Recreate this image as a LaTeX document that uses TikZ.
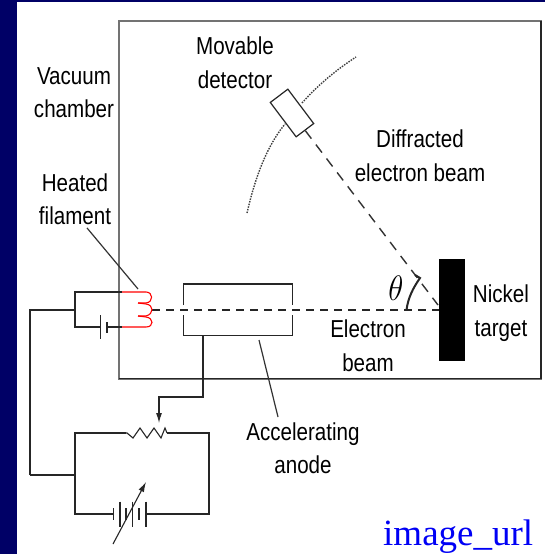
\documentclass[tikz,border=0pt]{standalone}
\usepackage{fontspec}
\setmainfont[FakeStretch=0.84]{Liberation Sans}
\newfontfamily\urlfont{Liberation Serif}
\usetikzlibrary{arrows.meta,positioning}
\definecolor{slidenavy}{RGB}{0,0,102}
\definecolor{urlblue}{RGB}{0,0,245}
\tikzset{
  label-t/.style={align=center,inner sep=0pt,font=\fontsize{24.5}{33.5}\selectfont,text=black},
  % Kantar
  wire/.style={line width=1.1pt,black!85},
  wall/.style={line width=2pt,black!55},
  coil/.style={line width=1.1pt,red},
  beam/.style={line width=1.4pt,black!85,dash pattern=on 8pt off 6pt},
  diffr/.style={line width=1.4pt,black!80,dash pattern=on 10pt off 7.5pt},
  track/.style={line width=1.4pt,black!75,dash pattern=on 1.5pt off 1.2pt},
  leader/.style={line width=1.2pt,black!80},
  tipped/.style={wire,-{Latex[length=10pt,width=6pt]}},
}
\begin{document}
\begin{tikzpicture}[x=1pt,y=-1pt]
  \useasboundingbox (0,0) rectangle (545,554);
  \fill[slidenavy] (0,0) rectangle (545,554);
  \fill[white] (17,2) rectangle (545,554);
  % chamber
  \draw[wall] (119,21) rectangle (541,379);
  \draw[line width=1.2pt,black!85] (119,378.5) -- (541,378.5) -- (541,21);
  % coordinates
  \coordinate (top-l) at (75,292);
  \coordinate (mid-l) at (75,310);
  \coordinate (bot-l) at (75,327);
  \coordinate (far-t) at (30,310);
  \coordinate (far-b) at (30,475);
  \coordinate (res-in) at (126,433);
  \coordinate (res-out) at (167,433);
  \coordinate (res-l) at (75,433);
  \coordinate (res-r) at (209,433);
  \coordinate (bat-l) at (113,514);
  \coordinate (bat-r) at (146,514);
  \coordinate (bat-cl) at (75,514);
  \coordinate (bat-cr) at (209,514);
  \coordinate (join-b) at (75,475);
  \coordinate (fil-t) at (122,292);
  \coordinate (fil-b) at (122,327);
  \coordinate (cell-a) at (100.5,327);
  \coordinate (cell-b) at (107,327);
  \coordinate (beam-s) at (152,310);
  % target and detector
  \node[fill=black,minimum width=26pt,minimum height=102pt,inner sep=0pt] (target) at (452,310) {};
  \draw[track] (247,213) .. controls (258,165) and (272,140) .. (285,124);
  \draw[track] (302,103) .. controls (318,85) and (336,70) .. (356,57);
  \node[draw=black!85,line width=1.2pt,fill=white,rotate=-53,minimum width=43pt,minimum height=22pt,inner sep=0pt] (detector) at (292,113) {};
  % beams
  \draw[beam] (beam-s) -- (target.west);
  \draw[diffr] (detector.east) -- (438,305);
  \draw[line width=2pt,black!85] (406.5,310) .. controls (408,298) and (413,288) .. (420,278) -- (415,275);
  % anode
  \coordinate (an-tl) at (183.5,284);
  \coordinate (an-tr) at (292.5,284);
  \coordinate (an-bl) at (183.5,335.5);
  \coordinate (an-br) at (292.5,335.5);
  \coordinate (an-tap) at (203,335.5);
  \coordinate (an-bend) at (203,397);
  \coordinate (res-bend) at (159,397);
  \coordinate (res-tap) at (159,423);
  \draw[wire] (183.5,305) -- (an-tl) -- (an-tr) -- (292.5,305);
  \draw[wire] (183.5,315) -- (an-bl) -- (an-br) -- (292.5,315);
  \draw[tipped] (an-tap) -- (an-bend) -- (res-bend) -- (res-tap);
  % filament circuit
  \draw[wire] (far-b) -- (far-t) -- (mid-l);
  \draw[wire] (fil-t) -- (top-l) -- (bot-l) -- (cell-a);
  \draw[wire] (cell-b) -- (fil-b);
  \draw[wire] (100.5,315) -- (100.5,339);
  \draw[wire,line width=1.6pt] (107,322) -- (107,333);
  \draw[coil] (fil-t) -- (146,292) .. controls (153,292) and (154,302) .. (146,303) -- (138,303);
  \draw[coil] (138,303) -- (146,304) .. controls (154,305) and (154,314) .. (146,316) -- (138,316);
  \draw[coil] (138,316) -- (146,317) .. controls (154,318) and (154,327) .. (146,327) -- (fil-b);
  % accelerating circuit
  \draw[wire] (far-b) -- (join-b);
  \draw[wire] (res-in) -- (res-l) -- (bat-cl) -- (bat-l);
  \draw[wire] (res-out) -- (res-r) -- (bat-cr) -- (bat-r);
  \draw[wire] (res-in) -- (127,433) -- (133,438) -- (140,428) -- (147,438) -- (154,428) -- (161,438) -- (165,428) -- (res-out);
  \foreach \px/\py in {113.5/6,120/12.5,126/6,132.5/12.5,139/6,146/12.5}
    \draw[wire] (\px,514-\py) -- (\px,514+\py);
  \coordinate (var-s) at (113,544);
  \coordinate (var-e) at (146,482);
  \draw[tipped] (var-s) -- (var-e);
  % texts
  \node[label-t] (vac) at (74,92.5) {Vacuum\\chamber};
  \node[label-t] (heat) at (75,199) {Heated\\filament};
  \node[label-t] (mov) at (235,62.5) {Movable\\detector};
  \node[label-t] (dif) at (420,155.5) {Diffracted\\electron beam};
  \node[label-t] (elec) at (368,345.5) {Electron\\beam};
  \node[label-t] (nick) at (501,313) {Nickel\\target};
  \node[label-t] (acc) at (303,448) {Accelerating\\anode};
  \node[inner sep=0pt,font=\fontsize{24}{24}\selectfont,xscale=1.25,yscale=1.42] (ang) at (396,288.5) {$\theta$};
  \node[inner sep=0pt,text=urlblue,font=\urlfont\fontsize{37}{37}\selectfont,anchor=base west] (url) at (383,545) {image\_url};
  % leaders
  \coordinate (heat-end) at (138,289);
  \coordinate (acc-end) at (278,417);
  \coordinate (acc-start) at (259,340);
  \draw[leader] (heat.south) ++(12,3) -- (heat-end);
  \draw[leader] (acc-start) -- (acc-end);
\end{tikzpicture}
\end{document}
